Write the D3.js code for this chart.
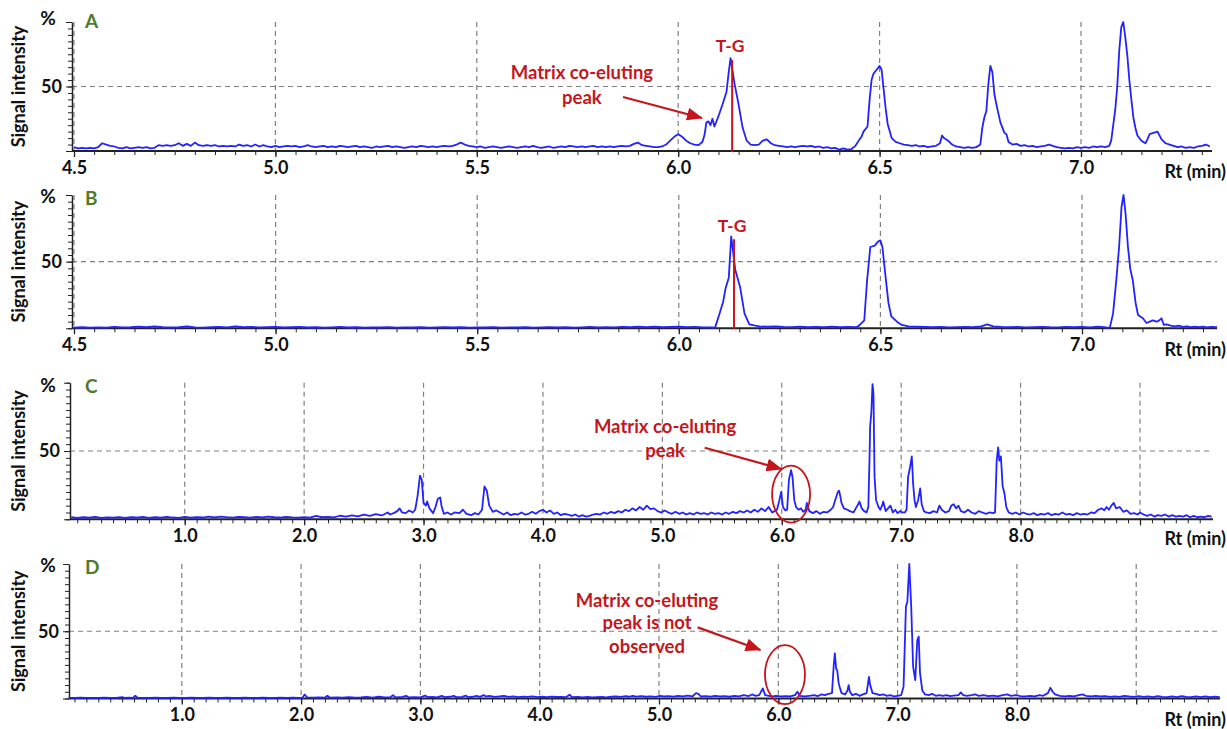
<!DOCTYPE html>
<html>
<head>
<meta charset="utf-8">
<script src="https://cdn.jsdelivr.net/npm/d3@7"></script>
<style>
  body { margin: 0; background: #fff; }
  svg text { font-family: Lato, "Open Sans", sans-serif; font-weight: bold; }
</style>
</head>
<body>
<svg id="chart" width="1227" height="729"></svg>
<script>
// Chromatograms: [Rt (min), signal intensity (%)]
var traceA = [
 [4.50,3],[4.51,2],[4.52,2.5],[4.53,2],[4.54,2.5],[4.55,2],[4.56,3],[4.57,6],[4.58,5],[4.59,4],
 [4.60,3.5],[4.61,2.5],[4.62,2],[4.63,3],[4.64,2],[4.65,2.5],[4.66,3],[4.67,2.5],[4.68,3],[4.69,2],
 [4.70,2.5],[4.71,4.5],[4.72,4],[4.73,4.5],[4.74,4],[4.75,4.5],[4.76,6],[4.77,4],[4.78,5.5],[4.79,4],
 [4.80,6.5],[4.81,4.5],[4.82,4],[4.83,4.5],[4.84,4],[4.85,4.5],[4.86,3.5],[4.87,4],[4.88,3.5],[4.89,4],
 [4.90,3.5],[4.91,5],[4.92,4],[4.93,4.5],[4.94,3.5],[4.95,5],[4.96,3.5],[4.97,4.5],[4.98,3.5],[4.99,3],
 [5.00,4],[5.01,3],[5.02,3.5],[5.03,4],[5.04,3.5],[5.05,4],[5.06,3],[5.07,3.5],[5.08,4.5],[5.09,3.5],
 [5.10,3],[5.11,3.5],[5.12,4],[5.13,3],[5.14,3.5],[5.15,3],[5.16,4],[5.17,3.5],[5.18,3],[5.19,3.5],
 [5.20,4],[5.21,3],[5.22,3.5],[5.23,3],[5.24,2.5],[5.25,3.5],[5.26,3],[5.27,3.5],[5.28,4],[5.29,3],
 [5.30,3.5],[5.31,3],[5.32,2.5],[5.33,3],[5.34,3.5],[5.35,3],[5.36,4],[5.37,3.5],[5.38,3],[5.39,3.5],
 [5.40,3],[5.41,3.5],[5.42,4],[5.43,3.5],[5.44,4],[5.45,5],[5.46,6.5],[5.47,5],[5.48,4],[5.49,3.5],
 [5.50,3],[5.51,3.5],[5.52,2.5],[5.53,3],[5.54,3.5],[5.55,3],[5.56,2.5],[5.57,3],[5.58,3.5],[5.59,3],
 [5.60,2.5],[5.61,3],[5.62,3.5],[5.63,3],[5.64,4],[5.65,3],[5.66,2.5],[5.67,3],[5.68,3.5],[5.69,2.5],
 [5.70,3],[5.71,3.5],[5.72,3],[5.73,4],[5.74,3.5],[5.75,3],[5.76,3.5],[5.77,3],[5.78,3.5],[5.79,4],
 [5.80,3],[5.81,3.5],[5.82,3],[5.83,3.5],[5.84,3],[5.85,3.5],[5.86,4],[5.87,3.5],[5.88,4],[5.89,5.5],
 [5.90,6.5],[5.91,4.5],[5.92,4],[5.93,3.5],[5.94,3],[5.95,3],[5.96,3.5],[5.97,5],[5.98,8],[5.99,11],
 [6.00,13],[6.01,11],[6.02,8],[6.03,6],[6.04,5],[6.05,4.5],[6.06,7],[6.065,12],[6.07,22],[6.075,23],
 [6.08,20],[6.085,25],[6.09,19],[6.10,27],[6.11,36],[6.12,46],[6.125,60],[6.13,72],[6.135,62],[6.14,52],
 [6.15,36],[6.16,18],[6.17,8],[6.18,5],[6.19,4.5],[6.20,5],[6.21,8],[6.22,9],[6.23,6],[6.24,4.5],
 [6.25,4],[6.26,3.5],[6.27,3],[6.28,3.5],[6.29,3],[6.30,3.5],[6.31,4],[6.32,3.5],[6.33,4],[6.34,3],
 [6.35,3.5],[6.36,2.5],[6.37,3],[6.38,2],[6.39,2.5],[6.40,1],[6.41,2],[6.42,1],[6.43,1.5],[6.44,4],
 [6.45,9],[6.455,11],[6.46,15],[6.47,19],[6.475,39],[6.48,55],[6.485,60],[6.49,62],[6.495,64],[6.50,66],
 [6.505,63],[6.51,48],[6.515,33],[6.52,21],[6.53,10],[6.54,7],[6.55,6],[6.56,5],[6.57,4.5],[6.58,4],
 [6.59,4.5],[6.60,3.5],[6.61,4],[6.62,3],[6.63,3.5],[6.64,4],[6.65,6],[6.655,12],[6.66,10],[6.67,8],
 [6.68,5],[6.69,3.5],[6.70,3],[6.71,2.5],[6.72,3],[6.73,2.5],[6.74,3],[6.75,5],[6.755,18],[6.76,26],
 [6.765,31],[6.77,52],[6.775,66],[6.78,61],[6.785,44],[6.79,36],[6.80,22],[6.81,14],[6.815,13],[6.82,7],
 [6.83,5],[6.84,5.5],[6.85,4],[6.86,4.5],[6.87,3.5],[6.88,4],[6.89,3],[6.90,3.5],[6.91,4],[6.92,5],
 [6.93,4],[6.94,3],[6.95,2.5],[6.96,2],[6.97,2.5],[6.98,2],[6.99,3],[7.00,2.5],[7.01,3],[7.02,2.5],
 [7.03,3.5],[7.04,3],[7.05,3.5],[7.06,3],[7.07,4],[7.075,8],[7.08,20],[7.085,32],[7.09,50],[7.095,78],
 [7.10,96],[7.105,100],[7.11,88],[7.115,74],[7.12,55],[7.125,40],[7.13,26],[7.135,18],[7.14,12],[7.15,8],
 [7.16,6],[7.165,9],[7.17,13],[7.18,14],[7.19,15],[7.20,9],[7.21,6],[7.22,5],[7.23,4],[7.24,3],
 [7.25,3.5],[7.26,2.5],[7.27,3],[7.28,2.5],[7.29,3.5],[7.30,4],[7.31,5],[7.32,3.5]
];

var traceB = [
 [4.50,0.5],[4.52,0.8],[4.54,0.5],[4.56,0.7],[4.58,0.5],[4.60,1],[4.62,0.7],[4.64,0.8],[4.66,1.2],[4.68,0.8],
 [4.70,1.5],[4.72,0.8],[4.74,0.6],[4.76,0.8],[4.78,1.5],[4.80,0.7],[4.82,0.5],[4.84,0.8],[4.86,1],[4.88,0.7],
 [4.90,1.5],[4.92,0.8],[4.94,1],[4.96,0.7],[4.98,0.9],[5.00,1],[5.02,0.6],[5.04,0.8],[5.06,1],[5.08,0.6],
 [5.10,0.8],[5.12,0.5],[5.14,0.7],[5.16,1],[5.18,0.6],[5.20,0.8],[5.22,0.5],[5.24,0.7],[5.26,0.6],[5.28,0.9],
 [5.30,0.5],[5.32,0.7],[5.34,0.6],[5.36,0.8],[5.38,0.5],[5.40,0.7],[5.42,0.9],[5.44,0.6],[5.46,0.8],[5.48,0.5],
 [5.50,0.7],[5.52,0.6],[5.54,0.9],[5.56,0.5],[5.58,0.7],[5.60,0.6],[5.62,0.8],[5.64,0.5],[5.66,0.7],[5.68,0.9],
 [5.70,0.6],[5.72,0.8],[5.74,0.5],[5.76,0.7],[5.78,1],[5.80,0.6],[5.82,0.8],[5.84,0.7],[5.86,1],[5.88,0.8],
 [5.90,1.2],[5.92,0.9],[5.94,1.3],[5.96,0.8],[5.98,1],[6.00,1.2],[6.02,0.8],[6.04,1],[6.06,0.7],[6.08,0.6],
 [6.09,0.5],[6.10,10],[6.11,20],[6.116,30],[6.124,38],[6.13,69],[6.134,59],[6.14,44],[6.152,31],[6.163,11],
 [6.175,3],[6.19,2],[6.20,1.5],[6.22,1.2],[6.24,1.5],[6.26,1],[6.28,0.9],[6.30,1.2],[6.32,0.8],[6.34,1],
 [6.36,0.9],[6.38,1.2],[6.40,0.8],[6.42,1],[6.44,0.8],[6.447,2],[6.46,6],[6.467,36],[6.475,61],[6.486,62],
 [6.494,65],[6.50,66],[6.505,61],[6.512,41],[6.52,19],[6.527,9],[6.541,5],[6.553,2.5],[6.57,1.5],[6.59,1.2],
 [6.61,1],[6.63,0.8],[6.65,1],[6.67,0.7],[6.69,0.9],[6.71,1],[6.73,0.8],[6.75,1.5],[6.765,3],[6.78,1.5],
 [6.80,1],[6.82,0.8],[6.84,1],[6.86,0.7],[6.88,0.9],[6.90,1.1],[6.92,0.8],[6.94,0.7],[6.96,1],[6.98,0.8],
 [7.00,1],[7.02,0.7],[7.04,1.2],[7.06,0.6],[7.069,0.5],[7.077,11],[7.085,36],[7.092,61],[7.098,91],[7.103,100],
 [7.108,86],[7.114,61],[7.12,44],[7.126,36],[7.133,19],[7.139,10],[7.151,7.5],[7.16,4],[7.168,5],[7.176,6],
 [7.185,5],[7.19,5.5],[7.197,7.5],[7.203,2.5],[7.21,3],[7.22,2],[7.23,1.5],[7.24,2],[7.25,1],[7.26,1.5],
 [7.27,0.8],[7.28,1.2],[7.29,0.8],[7.30,1.3],[7.31,0.7],[7.32,1],[7.335,0.8]
];

var traceC = [
 [0.05,1.5],[0.10,1],[0.15,1.5],[0.20,1.2],[0.25,1.8],[0.30,1],[0.35,1.4],[0.40,1.2],[0.45,1.6],[0.50,1],
 [0.55,1.5],[0.60,1.3],[0.65,1.8],[0.70,1.1],[0.75,1.5],[0.80,1.2],[0.85,1.7],[0.90,1.3],[0.95,1.1],[1.00,1.8],
 [1.05,1.2],[1.10,1.5],[1.15,1.3],[1.20,1.9],[1.25,1.4],[1.30,2],[1.35,1.6],[1.40,1.3],[1.45,1.8],[1.50,1.5],
 [1.55,1.2],[1.60,1.7],[1.65,1.4],[1.70,2],[1.75,1.5],[1.80,1.3],[1.85,1.8],[1.90,1.4],[1.95,1.2],[2.00,1.6],
 [2.05,1.3],[2.10,2.5],[2.15,1.5],[2.20,1.8],[2.25,1.4],[2.30,2.6],[2.35,2],[2.40,2.8],[2.45,2.2],[2.50,3.5],
 [2.55,2.5],[2.60,3.8],[2.65,2.8],[2.70,5],[2.72,3.5],[2.75,4.5],[2.78,6],[2.80,8],[2.82,5],[2.85,4.5],
 [2.88,6.5],[2.91,5],[2.93,7],[2.95,17],[2.97,32],[2.985,29],[3.00,12],[3.02,10],[3.03,13],[3.05,8],
 [3.08,4.4],[3.10,9],[3.12,15],[3.14,16],[3.15,10],[3.17,4],[3.20,5],[3.23,3.5],[3.26,5],[3.30,4.5],
 [3.33,7],[3.36,4],[3.40,3],[3.43,4.5],[3.46,3.5],[3.49,7],[3.51,24],[3.53,21],[3.55,10],[3.58,5.5],
 [3.61,6.5],[3.64,5],[3.67,3.5],[3.70,5],[3.73,3],[3.76,4],[3.79,3.5],[3.82,5],[3.85,3.5],[3.88,4],
 [3.91,5.5],[3.94,4],[3.97,6],[4.00,7],[4.03,5],[4.06,6.5],[4.09,4],[4.12,5],[4.15,3],[4.18,4],
 [4.21,3.5],[4.24,2.5],[4.27,3.5],[4.30,2],[4.33,3],[4.36,2],[4.39,2.5],[4.42,3.5],[4.45,4],[4.48,3.5],
 [4.51,5],[4.54,4],[4.57,5.5],[4.60,4.5],[4.63,6],[4.66,5],[4.69,7],[4.72,6],[4.75,8],[4.78,6.5],
 [4.81,9],[4.84,7],[4.87,10],[4.90,7.5],[4.93,8],[4.96,6],[4.99,5],[5.02,6.5],[5.05,5],[5.08,4],
 [5.11,5.5],[5.14,4],[5.17,5],[5.20,3.5],[5.23,4.5],[5.26,3.5],[5.29,5],[5.32,4],[5.35,4.5],[5.38,3.5],
 [5.41,5],[5.44,4],[5.47,4.5],[5.50,3.5],[5.53,5],[5.56,4],[5.59,5.5],[5.62,4.5],[5.65,6],[5.68,5],
 [5.71,6.5],[5.74,5],[5.77,7],[5.80,5.5],[5.83,8],[5.86,6],[5.89,9],[5.92,5],[5.94,6],[5.96,7],
 [5.98,14],[5.995,20],[6.01,9],[6.03,6.5],[6.045,7],[6.06,29],[6.078,36],[6.09,31],[6.105,14],[6.12,9],
 [6.14,7],[6.16,8],[6.18,5.5],[6.20,7],[6.21,12],[6.23,6],[6.26,4.5],[6.29,6],[6.32,4],[6.35,5.5],
 [6.38,5],[6.41,7],[6.43,9],[6.45,14.6],[6.47,20],[6.48,21],[6.49,17],[6.50,12],[6.52,8],[6.55,7],
 [6.57,6],[6.60,5],[6.62,8],[6.64,11],[6.65,13],[6.67,8],[6.69,6],[6.71,5],[6.725,9],[6.735,45],
 [6.74,68],[6.75,78],[6.76,99],[6.768,92],[6.777,31],[6.79,14],[6.81,9],[6.825,7],[6.84,10],[6.85,13],
 [6.87,6],[6.89,8],[6.91,10],[6.93,5],[6.95,7],[6.97,4.5],[6.99,6],[7.01,5],[7.03,5],[7.045,7],
 [7.058,31],[7.075,38.5],[7.089,46],[7.10,26],[7.112,14],[7.123,9],[7.142,14],[7.159,22.7],[7.172,11],[7.19,6],
 [7.21,5],[7.24,4.5],[7.27,6],[7.30,5],[7.32,10],[7.34,7],[7.37,5],[7.40,6],[7.42,10],[7.44,11],
 [7.46,8],[7.48,10],[7.50,6],[7.53,5],[7.56,7],[7.59,5],[7.62,4],[7.65,6],[7.68,5],[7.71,4],
 [7.74,5],[7.77,4.5],[7.786,5],[7.80,43],[7.812,52.7],[7.822,43],[7.835,46],[7.85,24],[7.865,19],[7.88,9],
 [7.90,5],[7.93,4],[7.96,5],[7.99,3.5],[8.02,5],[8.05,4],[8.08,3.5],[8.11,4.5],[8.14,3],[8.17,4],
 [8.20,3.5],[8.23,4.5],[8.26,3],[8.29,4],[8.32,3.5],[8.35,5],[8.38,3.5],[8.41,4],[8.44,3],[8.47,4.5],
 [8.50,3.5],[8.53,4],[8.56,3.5],[8.59,5],[8.62,4.5],[8.65,7],[8.68,8],[8.70,6.5],[8.72,9],[8.74,7],
 [8.76,10],[8.78,12],[8.80,8],[8.83,9],[8.86,5.5],[8.89,6.5],[8.92,4],[8.95,4.5],[8.98,3.5],[9.00,5],
 [9.03,3.5],[9.06,2.5],[9.09,3.5],[9.12,2],[9.15,3],[9.18,2.5],[9.21,3.5],[9.24,2],[9.27,3],[9.30,2],
 [9.33,2.5],[9.36,2],[9.39,3],[9.42,1.5],[9.45,2.5],[9.48,1.5],[9.51,2],[9.54,1.5],[9.57,2.5],[9.60,2]
];

var traceD = [
 [0.05,0.5],[0.10,0.4],[0.15,0.6],[0.20,0.4],[0.25,0.5],[0.30,0.4],[0.35,0.6],[0.40,0.5],[0.45,0.4],[0.50,1],
 [0.52,0.5],[0.56,0.6],[0.59,0.5],[0.61,2],[0.63,0.6],[0.68,0.5],[0.73,0.4],[0.78,0.6],[0.83,0.5],[0.88,0.4],
 [0.93,0.6],[0.98,0.5],[1.03,0.4],[1.08,0.6],[1.13,0.5],[1.18,0.4],[1.23,0.6],[1.28,0.5],[1.33,0.4],[1.38,0.6],
 [1.43,0.5],[1.48,0.4],[1.53,0.6],[1.58,0.5],[1.63,0.4],[1.68,0.6],[1.73,0.5],[1.78,0.4],[1.83,0.6],[1.88,0.5],
 [1.93,0.7],[1.98,0.5],[2.01,0.6],[2.03,3],[2.05,0.8],[2.10,0.7],[2.15,0.9],[2.20,0.6],[2.22,2],[2.24,0.7],
 [2.30,0.8],[2.35,0.6],[2.40,1],[2.45,0.7],[2.50,0.9],[2.55,1.2],[2.60,0.7],[2.65,1.3],[2.70,0.8],[2.75,1],
 [2.77,2.5],[2.79,0.9],[2.85,1.2],[2.88,2],[2.90,0.9],[2.95,1],[3.00,0.8],[3.04,2.2],[3.06,1],[3.10,1.2],
 [3.14,0.8],[3.18,2],[3.20,1],[3.25,1.3],[3.28,2],[3.30,1],[3.35,1.2],[3.38,2.2],[3.40,1],[3.44,1.3],
 [3.47,2],[3.50,1.2],[3.53,2.5],[3.55,1.5],[3.58,2],[3.62,1.2],[3.66,1.5],[3.70,2],[3.74,1.2],[3.78,1.6],
 [3.82,1],[3.86,1.4],[3.90,1.2],[3.94,1.6],[3.98,1],[4.02,1.3],[4.06,1],[4.10,1.4],[4.14,1.1],[4.18,1.2],
 [4.22,1],[4.25,2.8],[4.27,1],[4.32,1.2],[4.36,0.9],[4.40,1.1],[4.44,0.8],[4.48,1],[4.52,1.2],[4.56,0.9],
 [4.60,1.3],[4.64,1.5],[4.68,1.2],[4.72,1.8],[4.75,1.3],[4.78,2],[4.81,1.4],[4.85,1.7],[4.89,1.3],[4.93,1.6],
 [4.97,1.2],[5.01,2],[5.04,1.5],[5.08,1.8],[5.12,1.4],[5.16,2],[5.20,1.6],[5.24,2.2],[5.28,1.5],[5.31,4],
 [5.33,3.5],[5.35,1.5],[5.39,1.8],[5.43,1.4],[5.47,2],[5.51,1.5],[5.55,1.8],[5.59,1.3],[5.63,2],[5.67,1.5],
 [5.71,2.5],[5.75,1.8],[5.78,3],[5.81,2],[5.84,2.5],[5.87,7.5],[5.89,2.5],[5.92,2],[5.95,1.5],[5.98,2],
 [6.02,1.5],[6.06,1.8],[6.10,1.5],[6.14,2.5],[6.16,5],[6.18,2],[6.22,1.5],[6.26,2],[6.30,2.5],[6.33,1.8],
 [6.36,3],[6.39,2.5],[6.42,3.5],[6.45,4],[6.465,25],[6.474,33.6],[6.485,22],[6.494,21],[6.505,12],[6.513,9],
 [6.53,4],[6.56,3],[6.58,6],[6.59,10],[6.60,5],[6.62,2.5],[6.65,3.5],[6.68,2],[6.71,3],[6.74,4],
 [6.75,10],[6.76,16],[6.77,10],[6.79,4],[6.82,3.5],[6.85,2.5],[6.88,3],[6.91,2],[6.94,2.5],[6.97,1.5],
 [7.00,2],[7.03,2.5],[7.05,9],[7.07,68.5],[7.082,72],[7.098,100],[7.114,68.5],[7.13,23.7],[7.148,13.6],[7.165,43.5],
 [7.177,46],[7.188,18.8],[7.207,6],[7.23,3],[7.26,2.5],[7.29,3.5],[7.32,2],[7.35,2.5],[7.38,2],[7.41,2.5],
 [7.44,1.8],[7.47,2.2],[7.51,2.5],[7.53,4.5],[7.55,2.5],[7.58,2],[7.62,2.5],[7.65,3],[7.68,2],[7.72,2.5],
 [7.76,1.8],[7.80,2.2],[7.84,1.5],[7.88,2.5],[7.92,3],[7.95,2],[7.99,2.5],[8.03,1.8],[8.07,1.5],[8.11,2],
 [8.15,1.6],[8.19,2.5],[8.22,2],[8.26,4],[8.28,8],[8.30,5],[8.32,3],[8.36,2],[8.40,1.5],[8.44,2],
 [8.48,1.5],[8.52,2.5],[8.55,3],[8.58,2],[8.62,1.5],[8.66,2],[8.70,1.5],[8.74,1.8],[8.78,1.2],[8.82,1.6],
 [8.86,1.2],[8.90,2],[8.94,1.5],[8.98,1.2],[9.02,1.8],[9.06,1.2],[9.10,1.5],[9.14,1],[9.18,1.8],[9.22,1.2],
 [9.26,1],[9.30,1.5],[9.34,1],[9.38,1.8],[9.42,1.2],[9.46,1],[9.50,1.5],[9.54,1],[9.58,1.6],[9.62,1],
 [9.66,1.4],[9.70,1]
];

// axis ticks
var gridAB = [4.5, 5.0, 5.5, 6.0, 6.5, 7.0];
var gridCD = [1, 2, 3, 4, 5, 6, 7, 8, 9];
var labelledCD = [1, 2, 3, 4, 5, 6, 7, 8];
var panelNames = ["A", "B", "C", "D"];

// callouts: text lines, anchor [Rt, %] for each line, arrow [from, to], circled region
var calloutTextA = ["Matrix co-eluting", "peak"];
var calloutTextC = ["Matrix co-eluting", "peak"];
var calloutTextD = ["Matrix co-eluting", "peak is not", "observed"];
var tgMarkA = { rt: 6.134, top: 70.5, labelRt: 6.129, labelPct: 76.7 };
var tgMarkB = { rt: 6.137, top: 66.8, labelRt: 6.132, labelPct: 72.5 };

(function() {
    var svg = d3.select("#chart");
    var RED = "#c4161c", BLUE = "#2222ff", GREEN = "#4f7a2b", INK = "#222";
    var FONT = "Lato, sans-serif";

    svg.append("defs").append("marker")
        .attr("id", "head")
        .attr("markerUnits", "userSpaceOnUse")
        .attr("markerWidth", 16).attr("markerHeight", 13)
        .attr("refX", 15).attr("refY", 6.5)
        .attr("orient", "auto")
        .append("path")
        .attr("d", "M0,0 L16,6.5 L0,13 Z")
        .attr("fill", RED);

    var panels = [
        { data: traceA, dom: [4.5, 7.0], rng: [74, 1081], x0: 72, x1: 1212, base: 151, top: 22,
          grid: gridAB, labelled: gridAB, minor: d3.range(4.5, 7.33, 0.05), pctDy: 3, rtY: 178,
          callout: { lines: calloutTextA, rt: 5.761, pcts: [55.8, 36.8], from: [5.863, 41.9], to: [6.059, 25.6] },
          tg: tgMarkA },
        { data: traceB, dom: [4.5, 7.0], rng: [74, 1082], x0: 72, x1: 1217, base: 328.3, top: 195,
          grid: gridAB, labelled: gridAB, minor: d3.range(4.5, 7.34, 0.05), pctDy: 8, rtY: 356,
          tg: tgMarkB },
        { data: traceC, dom: [0, 9], rng: [65.3, 1140], x0: 70, x1: 1213, base: 519.3, top: 382.7,
          grid: gridCD, labelled: labelledCD, minor: d3.range(0.1, 9.6, 0.1), pctDy: 9, rtY: 545,
          callout: { lines: calloutTextC, rt: 5.023, pcts: [63, 45.4], from: [5.355, 52.4], to: [5.998, 36.8],
                     ring: [6.078, 18.5], rx: 19, ry: 28.5 } },
        { data: traceD, dom: [0, 9], rng: [62.5, 1136.2], x0: 69, x1: 1220, base: 698.5, top: 564,
          grid: gridCD, labelled: labelledCD, minor: d3.range(0.1, 9.7, 0.1), pctDy: 8, rtY: 726,
          callout: { lines: calloutTextD, rt: 4.90, pcts: [68.3, 51.4, 33.6], from: [5.324, 52.9], to: [5.851, 36.1],
                     ring: [6.056, 17.8], rx: 20, ry: 29.5 } }
    ];

    panels.forEach(function(p, i) {
        var g = svg.append("g");
        var x = d3.scaleLinear().domain(p.dom).range(p.rng);
        var y = d3.scaleLinear().domain([0, 100]).range([p.base, p.top]);

        // dashed grid
        g.selectAll(".vgrid").data(p.grid).enter().append("line")
            .attr("x1", function(d) { return x(d); })
            .attr("x2", function(d) { return x(d); })
            .attr("y1", p.top).attr("y2", p.base)
            .attr("stroke", "#808080").attr("stroke-width", 1.2)
            .attr("stroke-dasharray", "5,4");
        g.append("line")
            .attr("x1", p.x0).attr("x2", p.x1)
            .attr("y1", y(50)).attr("y2", y(50))
            .attr("stroke", "#808080").attr("stroke-width", 1.2)
            .attr("stroke-dasharray", "5,4");

        // x axis: minor ticks, then labelled major ticks
        g.append("g")
            .attr("transform", "translate(0," + p.base + ")")
            .call(d3.axisBottom(x).tickValues(p.minor).tickSize(4).tickSizeOuter(0).tickFormat(""))
            .call(function(a) { a.select(".domain").remove(); a.selectAll("line").attr("stroke", INK); });
        g.append("g")
            .attr("transform", "translate(0," + p.base + ")")
            .call(d3.axisBottom(x).tickValues(p.grid).tickSize(6).tickSizeOuter(0).tickPadding(4)
                .tickFormat(function(d) { return p.labelled.indexOf(d) >= 0 ? d3.format(".1f")(d) : ""; }))
            .call(function(a) {
                a.select(".domain").remove();
                a.selectAll("line").attr("stroke", INK).attr("stroke-width", 1.3);
                a.selectAll("text").attr("fill", "#111").attr("font-size", 18)
                    .attr("font-family", FONT).attr("font-weight", "bold");
            });
        g.append("line")
            .attr("x1", p.x0).attr("x2", p.x1)
            .attr("y1", p.base).attr("y2", p.base)
            .attr("stroke", INK).attr("stroke-width", 2);

        // y axis
        g.append("g")
            .attr("transform", "translate(" + p.x0 + ",0)")
            .call(d3.axisLeft(y).tickValues(d3.range(0, 101, 5)).tickSize(4).tickSizeOuter(0).tickFormat(""))
            .call(function(a) { a.select(".domain").remove(); a.selectAll("line").attr("stroke", INK); });
        g.append("g")
            .attr("transform", "translate(" + p.x0 + ",0)")
            .call(d3.axisLeft(y).tickValues([0, 50, 100]).tickSize(6).tickSizeOuter(0).tickPadding(4)
                .tickFormat(function(d) { return d === 50 ? "50" : ""; }))
            .call(function(a) {
                a.select(".domain").attr("stroke", INK).attr("stroke-width", 1.5);
                a.selectAll("line").attr("stroke", INK);
                a.selectAll("text").attr("fill", "#111").attr("font-size", 18)
                    .attr("font-family", FONT).attr("font-weight", "bold");
            });

        g.append("text")
            .attr("x", 48).attr("y", p.top + p.pctDy)
            .attr("text-anchor", "middle").attr("font-size", 19).attr("fill", "#111")
            .text("%");
        g.append("text")
            .attr("transform", "translate(25," + ((p.top + p.base) / 2) + ") rotate(-90)")
            .attr("text-anchor", "middle").attr("font-size", 18).attr("fill", "#111")
            .text("Signal intensity");
        g.append("text")
            .attr("x", 85).attr("y", p.top + 6 + (i === 0 ? 0 : 4))
            .attr("font-size", 19).attr("fill", GREEN)
            .text(panelNames[i]);
        g.append("text")
            .attr("x", 1226).attr("y", p.rtY)
            .attr("text-anchor", "end").attr("font-size", 18).attr("fill", "#111")
            .text("Rt (min)");

        // chromatogram
        var line = d3.line()
            .x(function(d) { return x(d[0]); })
            .y(function(d) { return y(d[1]); });
        g.append("path")
            .datum(p.data)
            .attr("d", line)
            .attr("fill", "none")
            .attr("stroke", BLUE)
            .attr("stroke-width", 1.8)
            .attr("stroke-linejoin", "round");

        // T-G marker
        if (p.tg) {
            g.append("line")
                .attr("x1", x(p.tg.rt)).attr("x2", x(p.tg.rt))
                .attr("y1", y(p.tg.top)).attr("y2", p.base + 1)
                .attr("stroke", RED).attr("stroke-width", 2);
            g.append("text")
                .attr("x", x(p.tg.labelRt)).attr("y", y(p.tg.labelPct))
                .attr("text-anchor", "middle").attr("font-size", 17.5).attr("fill", RED)
                .text("T-G");
        }

        // callout text, arrow and ring
        if (p.callout) {
            var c = p.callout;
            g.selectAll(".callout").data(c.lines).enter().append("text")
                .attr("x", x(c.rt))
                .attr("y", function(d, k) { return y(c.pcts[k]); })
                .attr("text-anchor", "middle").attr("font-size", 18.5).attr("fill", RED)
                .text(function(d) { return d; });
            g.append("line")
                .attr("x1", x(c.from[0])).attr("y1", y(c.from[1]))
                .attr("x2", x(c.to[0])).attr("y2", y(c.to[1]))
                .attr("stroke", RED).attr("stroke-width", 2.2)
                .attr("marker-end", "url(#head)");
            if (c.ring) {
                g.append("ellipse")
                    .attr("cx", x(c.ring[0])).attr("cy", y(c.ring[1]))
                    .attr("rx", c.rx).attr("ry", c.ry)
                    .attr("fill", "none").attr("stroke", RED).attr("stroke-width", 1.8);
            }
        }
    });
})();
</script>
</body>
</html>
